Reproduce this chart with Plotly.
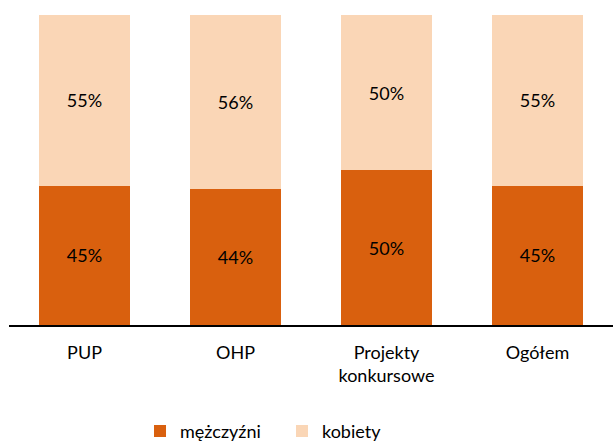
import plotly.graph_objects as go

categories = ["PUP", "OHP", "Projekty<br>konkursowe", "Ogółem"]
men = [45, 44, 50, 45]
women = [55, 56, 50, 55]

FONT = "Lato, Carlito, 'Open Sans', sans-serif"

fig = go.Figure()
fig.add_trace(go.Bar(
    x=categories, y=men, name="mężczyźni",
    marker=dict(color="#D9600E", line=dict(width=0)),
    text=[f"{v}%" for v in men], textposition="inside", insidetextanchor="middle",
    textfont=dict(color="black", size=18, family=FONT),
))
fig.add_trace(go.Bar(
    x=categories, y=women, name="kobiety",
    marker=dict(color="#FAD6B6", line=dict(width=0)),
    text=[f"{v}%" for v in women], textposition="inside", insidetextanchor="middle",
    textfont=dict(color="black", size=18, family=FONT),
))

fig.update_layout(
    barmode="stack",
    bargap=0.4,
    width=613, height=441,
    margin=dict(l=9, r=0, t=15, b=116, autoexpand=False),
    plot_bgcolor="white", paper_bgcolor="white",
    font=dict(family=FONT, size=18, color="black"),
    showlegend=True,
    legend=dict(orientation="h", x=0.452, xanchor="center", y=-0.343, yanchor="middle",
                font=dict(size=18), itemwidth=30, traceorder="normal",
                entrywidth=97, entrywidthmode="pixels"),
    uniformtext=dict(minsize=10, mode="show"),
)
fig.update_xaxes(showline=True, linecolor="black", linewidth=2, ticks="outside",
                 ticklen=10, tickcolor="rgba(0,0,0,0)", tickfont=dict(size=18),
                 showgrid=False, automargin=False)
fig.update_yaxes(range=[0, 100], visible=False, showgrid=False, automargin=False)

fig.write_html("out.html", config={"displayModeBar": False},
               post_script="document.body.style.margin='0';")
